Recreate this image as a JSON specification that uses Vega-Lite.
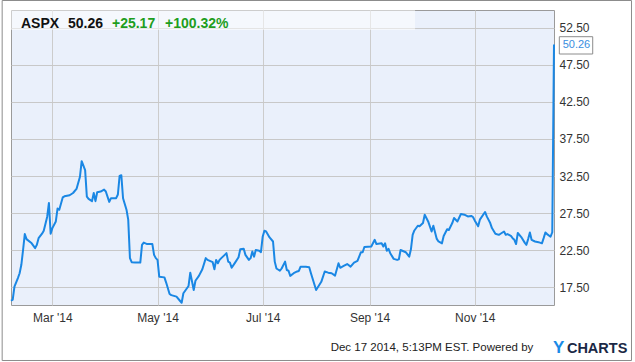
{
  "$schema": "https://vega.github.io/schema/vega-lite/v6.json",
  "width": 543,
  "height": 295,
  "autosize": {"type": "none"},
  "padding": {"left": 11, "top": 10, "right": 81, "bottom": 57},
  "background": "#ffffff",
  "config": {
    "view": {"fill": "#EAF0FB", "stroke": "#9a9a9a", "strokeWidth": 1},
    "font": "Liberation Sans",
    "axis": {"grid": true, "gridColor": "#cccccc", "gridWidth": 1, "gridOpacity": 1, "domain": false, "ticks": false, "labelFont": "Liberation Sans", "labelFontSize": 12, "labelColor": "#333333", "title": null},
    "axisY": {"gridColor": "#c8c8c8"}
  },
  "layer": [
    {
      "data": {
        "values": [
          {"date": "2014-02-05", "price": 15.64}, {"date": "2014-02-06", "price": 15.8}, {"date": "2014-02-07", "price": 17.54},
          {"date": "2014-02-09", "price": 18.7}, {"date": "2014-02-10", "price": 19.36}, {"date": "2014-02-11", "price": 20.5},
          {"date": "2014-02-12", "price": 22.5}, {"date": "2014-02-13", "price": 24.65}, {"date": "2014-02-14", "price": 23.97},
          {"date": "2014-02-17", "price": 23.4}, {"date": "2014-02-19", "price": 22.75}, {"date": "2014-02-20", "price": 23.2},
          {"date": "2014-02-21", "price": 24.1}, {"date": "2014-02-23", "price": 24.7}, {"date": "2014-02-24", "price": 25.1},
          {"date": "2014-02-26", "price": 27.0}, {"date": "2014-02-27", "price": 28.86}, {"date": "2014-02-28", "price": 24.7},
          {"date": "2014-03-01", "price": 25.46}, {"date": "2014-03-03", "price": 26.36}, {"date": "2014-03-04", "price": 28.1},
          {"date": "2014-03-05", "price": 27.95}, {"date": "2014-03-07", "price": 29.6}, {"date": "2014-03-08", "price": 29.75},
          {"date": "2014-03-11", "price": 29.9}, {"date": "2014-03-13", "price": 30.2}, {"date": "2014-03-15", "price": 30.75},
          {"date": "2014-03-17", "price": 32.4}, {"date": "2014-03-18", "price": 34.5}, {"date": "2014-03-20", "price": 33.3},
          {"date": "2014-03-21", "price": 29.7}, {"date": "2014-03-22", "price": 29.4}, {"date": "2014-03-24", "price": 29.1},
          {"date": "2014-03-25", "price": 30.2}, {"date": "2014-03-26", "price": 29.1}, {"date": "2014-03-27", "price": 30.3},
          {"date": "2014-03-29", "price": 30.4}, {"date": "2014-03-31", "price": 30.66}, {"date": "2014-04-01", "price": 30.4},
          {"date": "2014-04-03", "price": 29.0}, {"date": "2014-04-04", "price": 29.5}, {"date": "2014-04-07", "price": 29.5},
          {"date": "2014-04-08", "price": 30.0}, {"date": "2014-04-09", "price": 32.5}, {"date": "2014-04-10", "price": 32.6},
          {"date": "2014-04-11", "price": 29.5}, {"date": "2014-04-13", "price": 27.95}, {"date": "2014-04-14", "price": 26.6},
          {"date": "2014-04-15", "price": 21.4}, {"date": "2014-04-16", "price": 20.85}, {"date": "2014-04-18", "price": 20.8},
          {"date": "2014-04-21", "price": 20.8}, {"date": "2014-04-22", "price": 23.2}, {"date": "2014-04-23", "price": 23.5},
          {"date": "2014-04-25", "price": 23.3}, {"date": "2014-04-28", "price": 23.3}, {"date": "2014-04-29", "price": 21.84},
          {"date": "2014-04-30", "price": 21.4}, {"date": "2014-05-01", "price": 21.16}, {"date": "2014-05-02", "price": 18.9},
          {"date": "2014-05-05", "price": 18.8}, {"date": "2014-05-06", "price": 18.1}, {"date": "2014-05-08", "price": 16.55},
          {"date": "2014-05-09", "price": 16.4}, {"date": "2014-05-12", "price": 16.2}, {"date": "2014-05-14", "price": 15.64},
          {"date": "2014-05-15", "price": 15.37}, {"date": "2014-05-16", "price": 16.65}, {"date": "2014-05-19", "price": 17.64},
          {"date": "2014-05-20", "price": 19.44}, {"date": "2014-05-22", "price": 17.1}, {"date": "2014-05-23", "price": 18.35},
          {"date": "2014-05-25", "price": 19.0}, {"date": "2014-05-27", "price": 19.9}, {"date": "2014-05-29", "price": 21.4},
          {"date": "2014-05-30", "price": 21.16}, {"date": "2014-06-02", "price": 20.85}, {"date": "2014-06-03", "price": 19.9},
          {"date": "2014-06-04", "price": 21.16}, {"date": "2014-06-05", "price": 20.7}, {"date": "2014-06-06", "price": 21.16},
          {"date": "2014-06-07", "price": 21.4}, {"date": "2014-06-09", "price": 21.84}, {"date": "2014-06-10", "price": 22.07},
          {"date": "2014-06-11", "price": 20.93}, {"date": "2014-06-12", "price": 20.8}, {"date": "2014-06-13", "price": 20.1},
          {"date": "2014-06-15", "price": 20.8}, {"date": "2014-06-17", "price": 21.53}, {"date": "2014-06-18", "price": 22.6},
          {"date": "2014-06-20", "price": 22.66}, {"date": "2014-06-21", "price": 21.84}, {"date": "2014-06-23", "price": 21.16},
          {"date": "2014-06-24", "price": 21.4}, {"date": "2014-06-25", "price": 22.3}, {"date": "2014-06-26", "price": 21.6},
          {"date": "2014-06-27", "price": 22.5}, {"date": "2014-06-29", "price": 22.4}, {"date": "2014-06-30", "price": 22.2},
          {"date": "2014-07-01", "price": 24.3}, {"date": "2014-07-02", "price": 25.1}, {"date": "2014-07-03", "price": 25.0},
          {"date": "2014-07-05", "price": 24.2}, {"date": "2014-07-07", "price": 23.65}, {"date": "2014-07-08", "price": 20.93},
          {"date": "2014-07-09", "price": 20.0}, {"date": "2014-07-11", "price": 19.7}, {"date": "2014-07-12", "price": 20.0},
          {"date": "2014-07-14", "price": 20.93}, {"date": "2014-07-15", "price": 19.8}, {"date": "2014-07-16", "price": 19.7},
          {"date": "2014-07-17", "price": 19.0}, {"date": "2014-07-19", "price": 19.36}, {"date": "2014-07-21", "price": 19.6},
          {"date": "2014-07-22", "price": 19.67}, {"date": "2014-07-23", "price": 20.25}, {"date": "2014-07-26", "price": 20.25},
          {"date": "2014-07-28", "price": 20.17}, {"date": "2014-07-29", "price": 19.36}, {"date": "2014-08-01", "price": 17.1},
          {"date": "2014-08-02", "price": 17.46}, {"date": "2014-08-04", "price": 18.2}, {"date": "2014-08-06", "price": 19.6},
          {"date": "2014-08-08", "price": 19.44}, {"date": "2014-08-10", "price": 19.36}, {"date": "2014-08-12", "price": 19.04},
          {"date": "2014-08-14", "price": 20.7}, {"date": "2014-08-15", "price": 20.1}, {"date": "2014-08-17", "price": 20.35},
          {"date": "2014-08-19", "price": 20.6}, {"date": "2014-08-21", "price": 20.25}, {"date": "2014-08-23", "price": 20.8},
          {"date": "2014-08-25", "price": 21.03}, {"date": "2014-08-27", "price": 22.2}, {"date": "2014-08-28", "price": 22.2},
          {"date": "2014-08-29", "price": 22.9}, {"date": "2014-09-02", "price": 22.97}, {"date": "2014-09-04", "price": 23.88},
          {"date": "2014-09-05", "price": 23.3}, {"date": "2014-09-08", "price": 23.4}, {"date": "2014-09-09", "price": 22.97},
          {"date": "2014-09-10", "price": 23.4}, {"date": "2014-09-11", "price": 22.4}, {"date": "2014-09-12", "price": 22.66},
          {"date": "2014-09-13", "price": 22.07}, {"date": "2014-09-15", "price": 21.3}, {"date": "2014-09-17", "price": 21.16},
          {"date": "2014-09-18", "price": 21.24}, {"date": "2014-09-19", "price": 22.5}, {"date": "2014-09-22", "price": 22.2},
          {"date": "2014-09-24", "price": 21.6}, {"date": "2014-09-25", "price": 22.6}, {"date": "2014-09-26", "price": 24.55},
          {"date": "2014-09-27", "price": 25.14}, {"date": "2014-09-29", "price": 25.78}, {"date": "2014-09-30", "price": 25.7},
          {"date": "2014-10-02", "price": 26.14}, {"date": "2014-10-03", "price": 27.27}, {"date": "2014-10-05", "price": 26.36},
          {"date": "2014-10-07", "price": 25.0}, {"date": "2014-10-08", "price": 25.78}, {"date": "2014-10-10", "price": 24.0},
          {"date": "2014-10-11", "price": 23.65}, {"date": "2014-10-13", "price": 23.4}, {"date": "2014-10-14", "price": 24.4},
          {"date": "2014-10-16", "price": 25.3}, {"date": "2014-10-17", "price": 25.2}, {"date": "2014-10-19", "price": 26.14},
          {"date": "2014-10-20", "price": 26.82}, {"date": "2014-10-22", "price": 26.36}, {"date": "2014-10-24", "price": 27.36},
          {"date": "2014-10-26", "price": 27.27}, {"date": "2014-10-28", "price": 27.04}, {"date": "2014-10-30", "price": 27.1},
          {"date": "2014-10-31", "price": 26.96}, {"date": "2014-11-01", "price": 26.5}, {"date": "2014-11-03", "price": 25.7},
          {"date": "2014-11-04", "price": 26.6}, {"date": "2014-11-07", "price": 27.64}, {"date": "2014-11-08", "price": 27.04},
          {"date": "2014-11-10", "price": 26.14}, {"date": "2014-11-11", "price": 25.46}, {"date": "2014-11-13", "price": 24.7},
          {"date": "2014-11-15", "price": 24.55}, {"date": "2014-11-16", "price": 24.7}, {"date": "2014-11-18", "price": 25.0},
          {"date": "2014-11-19", "price": 24.55}, {"date": "2014-11-20", "price": 24.65}, {"date": "2014-11-22", "price": 24.4},
          {"date": "2014-11-23", "price": 24.1}, {"date": "2014-11-24", "price": 23.88}, {"date": "2014-11-25", "price": 23.3},
          {"date": "2014-11-26", "price": 24.8}, {"date": "2014-11-28", "price": 24.25}, {"date": "2014-11-30", "price": 23.5},
          {"date": "2014-12-01", "price": 23.2}, {"date": "2014-12-02", "price": 23.97}, {"date": "2014-12-03", "price": 24.87},
          {"date": "2014-12-04", "price": 23.88}, {"date": "2014-12-06", "price": 23.65}, {"date": "2014-12-08", "price": 23.56},
          {"date": "2014-12-10", "price": 23.4}, {"date": "2014-12-11", "price": 24.1}, {"date": "2014-12-12", "price": 24.87},
          {"date": "2014-12-13", "price": 24.65}, {"date": "2014-12-15", "price": 24.3}, {"date": "2014-12-16", "price": 24.9},
          {"date": "2014-12-17", "price": 50.26}
        ],
        "format": {"parse": {"date": "date:'%Y-%m-%d'"}}
      },
      "mark": {"type": "line", "color": "#1a87e4", "strokeWidth": 2, "strokeJoin": "round"},
      "encoding": {
        "x": {
          "field": "date", "type": "temporal",
          "scale": {"domain": [{"year": 2014, "month": 2, "date": 5}, {"year": 2014, "month": 12, "date": 17}]},
          "axis": {
            "grid": true,
            "values": [{"year": 2014, "month": 3, "date": 1}, {"year": 2014, "month": 5, "date": 1}, {"year": 2014, "month": 7, "date": 1}, {"year": 2014, "month": 9, "date": 1}, {"year": 2014, "month": 11, "date": 1}],
            "format": "%b '%y", "labelPadding": 7, "labelAlign": "center", "labelFlush": false, "labelOverlap": false
          }
        },
        "y": {
          "field": "price", "type": "quantitative",
          "scale": {"domain": [15.0676, 54.9324], "nice": false, "zero": false},
          "axis": {"grid": true, "orient": "right", "values": [17.5, 22.5, 27.5, 32.5, 37.5, 42.5, 47.5, 52.5], "format": ".2f", "labelPadding": 5, "labelBaseline": "middle"}
        }
      }
    },
    {
      "data": {"values": [{}]},
      "mark": {"type": "rect", "fill": "#ffffff", "fillOpacity": 0.5},
      "encoding": {
        "x": {"datum": {"year": 2014, "month": 2, "date": 5}, "type": "temporal"},
        "x2": {"datum": {"year": 2014, "month": 9, "date": 27, "hours": 10}},
        "y": {"datum": 54.9324, "type": "quantitative", "axis": {"grid": true, "orient": "right", "values": [17.5, 22.5, 27.5, 32.5, 37.5, 42.5, 47.5, 52.5], "format": ".2f", "labelPadding": 5, "labelBaseline": "middle"}},
        "y2": {"datum": 52.23}
      }
    },
    {
      "data": {"values": [{}]},
      "mark": {"type": "rect", "fill": null, "fillOpacity": 0, "stroke": "#8c8c8c", "strokeWidth": 1},
      "encoding": {
        "x": {"datum": {"year": 2014, "month": 1, "date": 30, "hours": 21}, "type": "temporal"},
        "x2": {"datum": {"year": 2015, "month": 1, "date": 30, "hours": 23}},
        "y": {"datum": 56.216, "type": "quantitative", "axis": {"grid": true, "orient": "right", "values": [17.5, 22.5, 27.5, 32.5, 37.5, 42.5, 47.5, 52.5], "format": ".2f", "labelPadding": 5, "labelBaseline": "middle"}},
        "y2": {"datum": 7.568}
      }
    },
    {
      "data": {"values": [{}]},
      "mark": {"type": "rect", "fill": "#ffffff", "stroke": "#8c8c8c", "strokeWidth": 1},
      "encoding": {
        "x": {"datum": {"year": 2014, "month": 12, "date": 20, "hours": 2}, "type": "temporal"},
        "x2": {"datum": {"year": 2015, "month": 1, "date": 8, "hours": 11}},
        "y": {"datum": 51.324, "type": "quantitative", "axis": {"grid": true, "orient": "right", "values": [17.5, 22.5, 27.5, 32.5, 37.5, 42.5, 47.5, 52.5], "format": ".2f", "labelPadding": 5, "labelBaseline": "middle"}},
        "y2": {"datum": 48.986}
      }
    },
    {
      "data": {"values": [{}]},
      "mark": {"type": "text", "text": "50.26", "align": "left", "baseline": "middle", "font": "Liberation Sans", "fontSize": 11, "color": "#3a8ee0"},
      "encoding": {
        "x": {"datum": {"year": 2014, "month": 12, "date": 22, "hours": 1}, "type": "temporal"},
        "y": {"datum": 50.2, "type": "quantitative", "axis": {"grid": true, "orient": "right", "values": [17.5, 22.5, 27.5, 32.5, 37.5, 42.5, 47.5, 52.5], "format": ".2f", "labelPadding": 5, "labelBaseline": "middle"}}
      }
    },
    {
      "data": {"values": [{}]},
      "mark": {"type": "text", "text": "ASPX", "align": "left", "baseline": "alphabetic", "font": "Liberation Sans", "fontSize": 14, "fontWeight": "bold", "color": "#111111"},
      "encoding": {
        "x": {"datum": {"year": 2014, "month": 2, "date": 10, "hours": 19}, "type": "temporal"},
        "y": {"datum": 52.46, "type": "quantitative", "axis": {"grid": true, "orient": "right", "values": [17.5, 22.5, 27.5, 32.5, 37.5, 42.5, 47.5, 52.5], "format": ".2f", "labelPadding": 5, "labelBaseline": "middle"}}
      }
    },
    {
      "data": {"values": [{}]},
      "mark": {"type": "text", "text": "50.26", "align": "left", "baseline": "alphabetic", "font": "Liberation Sans", "fontSize": 14, "fontWeight": "bold", "color": "#111111"},
      "encoding": {
        "x": {"datum": {"year": 2014, "month": 3, "date": 10, "hours": 2}, "type": "temporal"},
        "y": {"datum": 52.46, "type": "quantitative", "axis": {"grid": true, "orient": "right", "values": [17.5, 22.5, 27.5, 32.5, 37.5, 42.5, 47.5, 52.5], "format": ".2f", "labelPadding": 5, "labelBaseline": "middle"}}
      }
    },
    {
      "data": {"values": [{}]},
      "mark": {"type": "text", "text": "+25.17", "align": "left", "baseline": "alphabetic", "font": "Liberation Sans", "fontSize": 14, "fontWeight": "bold", "color": "#1e9e1e"},
      "encoding": {
        "x": {"datum": {"year": 2014, "month": 4, "date": 4, "hours": 14}, "type": "temporal"},
        "y": {"datum": 52.46, "type": "quantitative", "axis": {"grid": true, "orient": "right", "values": [17.5, 22.5, 27.5, 32.5, 37.5, 42.5, 47.5, 52.5], "format": ".2f", "labelPadding": 5, "labelBaseline": "middle"}}
      }
    },
    {
      "data": {"values": [{}]},
      "mark": {"type": "text", "text": "+100.32%", "align": "left", "baseline": "alphabetic", "font": "Liberation Sans", "fontSize": 14, "fontWeight": "bold", "color": "#1e9e1e"},
      "encoding": {
        "x": {"datum": {"year": 2014, "month": 5, "date": 5, "hours": 8}, "type": "temporal"},
        "y": {"datum": 52.46, "type": "quantitative", "axis": {"grid": true, "orient": "right", "values": [17.5, 22.5, 27.5, 32.5, 37.5, 42.5, 47.5, 52.5], "format": ".2f", "labelPadding": 5, "labelBaseline": "middle"}}
      }
    },
    {
      "data": {"values": [{}]},
      "mark": {"type": "text", "text": "Dec 17 2014, 5:13PM EST.  Powered by", "align": "right", "baseline": "alphabetic", "font": "Liberation Sans", "fontSize": 11.5, "color": "#222222"},
      "encoding": {
        "x": {"datum": {"year": 2014, "month": 12, "date": 5}, "type": "temporal"},
        "y": {"datum": 8.89, "type": "quantitative", "axis": {"grid": true, "orient": "right", "values": [17.5, 22.5, 27.5, 32.5, 37.5, 42.5, 47.5, 52.5], "format": ".2f", "labelPadding": 5, "labelBaseline": "middle"}}
      }
    },
    {
      "data": {"values": [{}]},
      "mark": {"type": "text", "text": "Y", "align": "left", "baseline": "alphabetic", "font": "Liberation Sans", "fontSize": 17, "fontWeight": "bold", "color": "#1a8ae6"},
      "encoding": {
        "x": {"datum": {"year": 2014, "month": 12, "date": 16, "hours": 10}, "type": "temporal"},
        "y": {"datum": 8.54, "type": "quantitative", "axis": {"grid": true, "orient": "right", "values": [17.5, 22.5, 27.5, 32.5, 37.5, 42.5, 47.5, 52.5], "format": ".2f", "labelPadding": 5, "labelBaseline": "middle"}}
      }
    },
    {
      "data": {"values": [{}]},
      "mark": {"type": "text", "text": "CHARTS", "align": "left", "baseline": "alphabetic", "font": "Liberation Sans", "fontSize": 14.5, "fontWeight": "bold", "color": "#1b2845"},
      "encoding": {
        "x": {"datum": {"year": 2014, "month": 12, "date": 24, "hours": 12}, "type": "temporal"},
        "y": {"datum": 8.54, "type": "quantitative", "axis": {"grid": true, "orient": "right", "values": [17.5, 22.5, 27.5, 32.5, 37.5, 42.5, 47.5, 52.5], "format": ".2f", "labelPadding": 5, "labelBaseline": "middle"}}
      }
    }
  ]
}
